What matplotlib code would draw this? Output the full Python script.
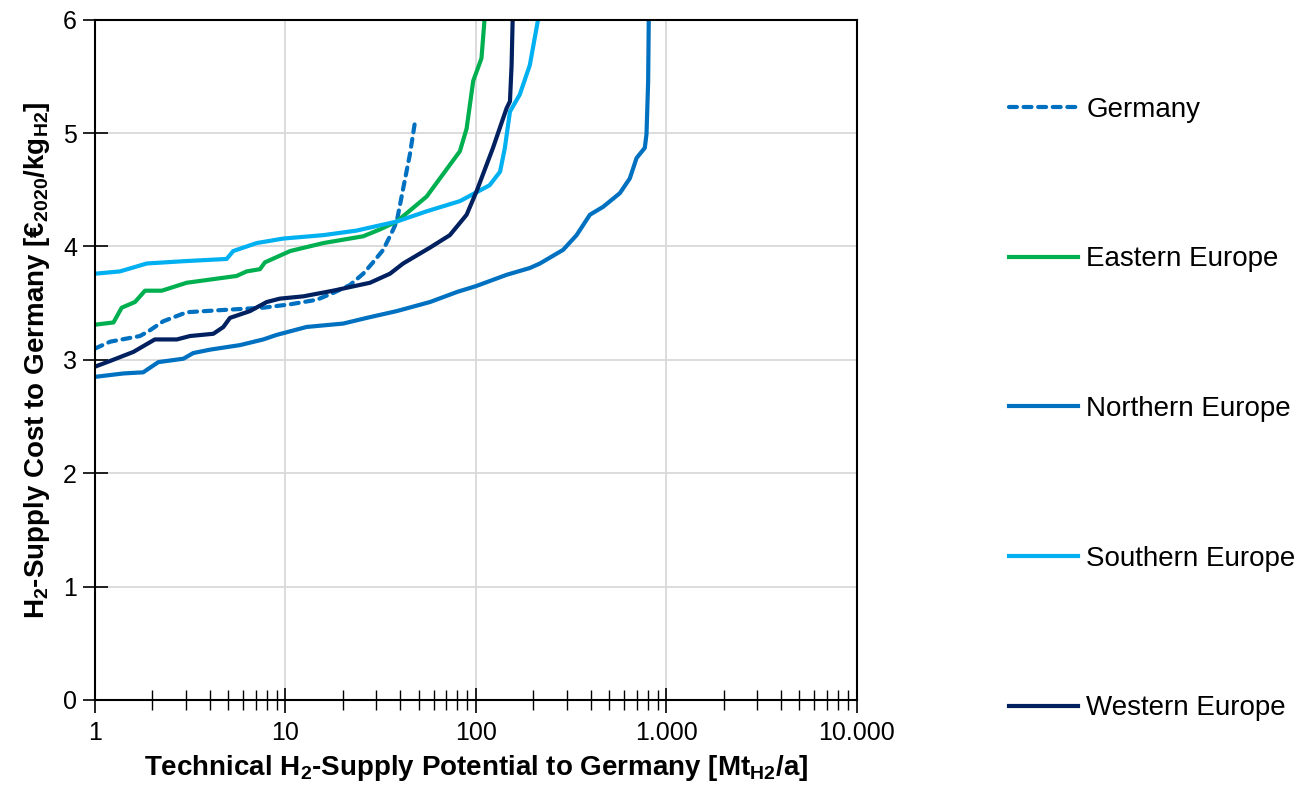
import matplotlib
matplotlib.use("Agg")
import matplotlib.pyplot as plt
from matplotlib.ticker import FixedLocator, LogLocator, FuncFormatter, NullFormatter

# H2 supply cost curves (x: potential in Mt/a, y: cost in EUR/kg)
germany_x = [1, 1.2, 1.72, 1.9, 2.28, 3.03, 4.72, 7.65, 10.6, 14.6, 17.8, 21.8, 25.6, 28.5,
             32.6, 36.8, 38.4, 41.5, 45.0, 47.9, 48.5]
germany_y = [3.10, 3.16, 3.21, 3.25, 3.34, 3.42, 3.44, 3.46, 3.49, 3.53, 3.59, 3.66, 3.76, 3.85,
             3.97, 4.15, 4.22, 4.51, 4.81, 5.10, 5.13]

eastern_x = [1, 1.25, 1.38, 1.62, 1.83, 2.24, 3.03, 5.54, 6.25, 7.35, 7.8, 10.6, 15.8, 25.6,
             31.3, 38.4, 55.1, 82.4, 89.4, 96.8, 107, 111]
eastern_y = [3.31, 3.33, 3.46, 3.51, 3.61, 3.61, 3.68, 3.74, 3.78, 3.80, 3.86, 3.96, 4.03, 4.09,
             4.15, 4.22, 4.44, 4.84, 5.04, 5.46, 5.66, 6.0]

northern_x = [1, 1.41, 1.79, 2.15, 2.91, 3.28, 4.02, 5.77, 7.65, 8.99, 12.9, 20.1, 26.7, 38.4,
              57.4, 80, 100, 145, 192, 217, 287, 338, 397, 466, 570, 643, 698, 771, 787, 803, 809]
northern_y = [2.85, 2.88, 2.89, 2.98, 3.01, 3.06, 3.09, 3.13, 3.18, 3.22, 3.29, 3.32, 3.37, 3.43,
              3.51, 3.60, 3.65, 3.75, 3.81, 3.85, 3.97, 4.10, 4.28, 4.35, 4.47, 4.60, 4.78, 4.87,
              4.99, 5.46, 6.0]

southern_x = [1, 1.35, 1.87, 2.91, 4.91, 5.32, 7.06, 9.75, 15.8, 23.6, 38.4, 55.1, 82.4, 118,
              134, 142, 151, 170, 192, 212]
southern_y = [3.76, 3.78, 3.85, 3.87, 3.89, 3.96, 4.03, 4.07, 4.10, 4.14, 4.22, 4.31, 4.40, 4.54,
              4.66, 4.87, 5.19, 5.34, 5.60, 6.0]

western_x = [1, 1.2, 1.59, 2.06, 2.69, 3.15, 4.18, 4.72, 5.11, 6.51, 7.97, 9.35, 12.4, 17.8,
             27.8, 35.4, 41.5, 57.4, 73, 89.4, 101, 123, 145, 151, 154, 156]
western_y = [2.94, 2.99, 3.07, 3.18, 3.18, 3.21, 3.23, 3.29, 3.37, 3.43, 3.51, 3.54, 3.56, 3.61,
             3.68, 3.76, 3.85, 3.99, 4.10, 4.28, 4.49, 4.87, 5.22, 5.28, 5.60, 6.0]

plt.rcParams["font.family"] = ["Liberation Sans", "DejaVu Sans"]
plt.rcParams["mathtext.fontset"] = "custom"
plt.rcParams["mathtext.rm"] = "Liberation Sans"
plt.rcParams["mathtext.bf"] = "Liberation Sans:bold"

fig = plt.figure(figsize=(13.02, 7.9), dpi=100)
ax = fig.add_axes([0.073, 0.114, 0.585, 0.861])

lw = 3.0
ax.plot(germany_x, germany_y, color="#0070C0", lw=lw, dashes=(1.9, 1.6),
        dash_capstyle="round", label="Germany")
ax.plot(eastern_x, eastern_y, color="#00B050", lw=lw, label="Eastern Europe")
ax.plot(northern_x, northern_y, color="#0070C0", lw=lw, label="Northern Europe")
ax.plot(southern_x, southern_y, color="#00B0F0", lw=lw, label="Southern Europe")
ax.plot(western_x, western_y, color="#002060", lw=lw, label="Western Europe")

ax.set_xscale("log")
ax.set_xlim(1, 10000)
ax.set_ylim(0, 6)

ax.xaxis.set_major_locator(FixedLocator([1, 10, 100, 1000, 10000]))
ax.xaxis.set_minor_locator(LogLocator(base=10, subs=range(2, 10)))
ax.xaxis.set_minor_formatter(NullFormatter())
ax.xaxis.set_major_formatter(FuncFormatter(lambda v, p: f"{int(round(v)):,}".replace(",", ".")))
ax.set_yticks(range(0, 7))

ax.grid(True, which="major", color="#D9D9D9", lw=1.3)
ax.set_axisbelow(True)
ax.tick_params(which="major", direction="inout", length=18, width=1.2, labelsize=18, pad=4)
ax.tick_params(which="minor", direction="inout", length=14, width=1.0)
ax.tick_params(axis="x", labelsize=18, pad=6)
for s in ax.spines.values():
    s.set_linewidth(1.5)
    s.set_color("black")

ax.set_xlabel(r"Technical H$_\mathbf{2}$-Supply Potential to Germany [Mt$_\mathbf{H2}$/a]",
              fontsize=20, fontweight="bold", labelpad=6)
ax.set_ylabel(r"H$_\mathbf{2}$-Supply Cost to Germany [€$_\mathbf{2020}$/kg$_\mathbf{H2}$]",
              fontsize=20, fontweight="bold", labelpad=8)

fig.legend(loc="upper left", bbox_to_anchor=(0.764, 0.895), frameon=False, fontsize=20,
           handlelength=2.5, handletextpad=0.3, labelspacing=4.45, borderpad=0)

fig.savefig("out.png", dpi=100)
